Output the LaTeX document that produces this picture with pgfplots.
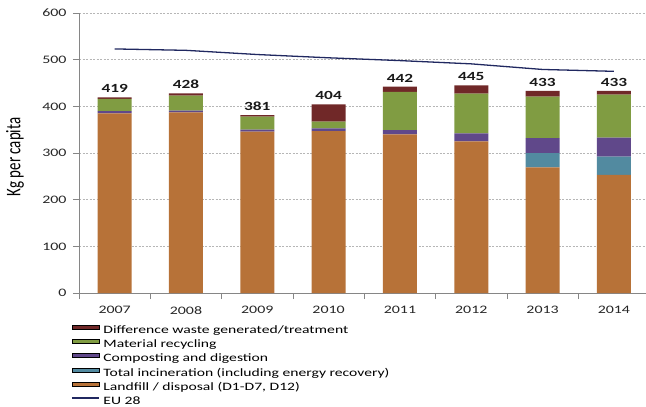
\documentclass[border=0pt]{standalone}
\usepackage{fontspec}
\setmainfont[FakeStretch=1.39]{Carlito}
\newfontfamily\plainfont{Carlito}
\usepackage{graphicx}
\usepackage{pgfplots}
\usepackage{pgfplotstable}
\pgfplotsset{compat=1.18}
\definecolor{landfill}{RGB}{183,114,56}
\definecolor{incin}{RGB}{82,138,160}
\definecolor{compost}{RGB}{96,72,138}
\definecolor{recyc}{RGB}{128,156,66}
\definecolor{diffc}{RGB}{112,40,40}
\definecolor{eu}{RGB}{32,40,96}
\definecolor{axisgray}{RGB}{134,134,134}
\pgfplotstableread{
x landfill incin compost recyc diff total eu
0 385 0 5 26 3 419 523
1 387 0 4 32 5 428 520
2 346 0 4 28 3 381 511
3 347 0 6 14 37 404 504
4 340 0 9 82 11 442 498
5 325 0 17 85 18 445 491
6 269 31 32 89 12 433 479
7 253 39 41 92 8 433 475
}\datatable
\begin{document}
\begin{tikzpicture}
\pgfplotsset{
  base/.style={
    width=567bp, height=280bp, scale only axis,
    xmin=-0.5, xmax=7.45, ymin=0, ymax=600,
    /pgf/number format/assume math mode=true,
  }
}
\begin{axis}[base,
  ybar stacked, bar width=34bp,
  axis lines*=left,
  axis line style={axisgray, line width=0.8pt},
  ytick={0,100,...,600},
  xtick={0,...,7},
  xticklabels={2007,2008,2009,2010,2011,2012,2013,2014},
  major x tick style={draw=none},
  minor xtick={-0.5,0.5,...,6.5},
  minor x tick style={axisgray, line width=0.8pt},
  ytick style={axisgray, line width=0.8pt},
  tick align=outside,
  major tick length=6bp, minor tick length=6bp,
  ymajorgrids,
  grid style={axisgray!60, dash pattern=on 2bp off 1.5bp, line width=0.5pt},
  tick label style={font=\fontsize{11.5}{13}\selectfont, text=black!85},
  yticklabel style={xshift=-3bp},
  xticklabel style={yshift=-4bp},
  legend style={at={([xshift=-11bp,yshift=-29.5bp]axis description cs:0,0)}, anchor=north west,
    draw=none, fill=none, font=\fontsize{11.3}{13}\selectfont, row sep=3.35bp, column sep=4bp,
    nodes={inner xsep=0pt, inner ysep=0pt, text height=8bp, text depth=2.5bp}},
  legend cell align=left,
  legend image code/.code={\fill[#1] (0bp,1.5bp) rectangle (27bp,5.5bp);},
]
\addlegendimage{fill=diffc}
\addlegendentry{Difference waste generated/treatment}
\addlegendimage{fill=recyc}
\addlegendentry{Material recycling}
\addlegendimage{fill=compost}
\addlegendentry{Composting and digestion}
\addlegendimage{fill=incin}
\addlegendentry{Total incineration (including energy recovery)}
\addlegendimage{fill=landfill}
\addlegendentry{Landfill / disposal (D1-D7, D12)}
\addlegendimage{legend image code/.code={\draw[eu, line width=1.2pt] (0bp,3.5bp) -- (27bp,3.5bp);}}
\addlegendentry{EU 28}
\addplot[fill=landfill, draw=none, forget plot] table[x=x, y=landfill]{\datatable};
\addplot[fill=incin, draw=none, forget plot] table[x=x, y=incin]{\datatable};
\addplot[fill=compost, draw=none, forget plot] table[x=x, y=compost]{\datatable};
\addplot[fill=recyc, draw=none, forget plot] table[x=x, y=recyc]{\datatable};
\addplot[fill=diffc, draw=none, forget plot] table[x=x, y=diff]{\datatable};
\end{axis}
\begin{axis}[base, hide axis]
\addplot[eu, line width=1.3pt, mark=none] table[x=x, y=eu]{\datatable};
\addplot[draw=none, mark=none, point meta=y, nodes near coords,
  every node near coord/.append style={anchor=south, font=\bfseries\fontsize{12.5}{14}\selectfont, text=black!90, yshift=1bp}]
  table[x=x, y=total]{\datatable};
\end{axis}
\node[rotate=90, anchor=center, inner sep=0pt] at (-64bp,136bp)
  {\scalebox{1}[1.39]{\plainfont\fontsize{15}{18}\selectfont Kg per capita}};
\pgfresetboundingbox
\useasboundingbox (-79bp,-114bp) rectangle (567bp,293bp);
\end{tikzpicture}
\end{document}
